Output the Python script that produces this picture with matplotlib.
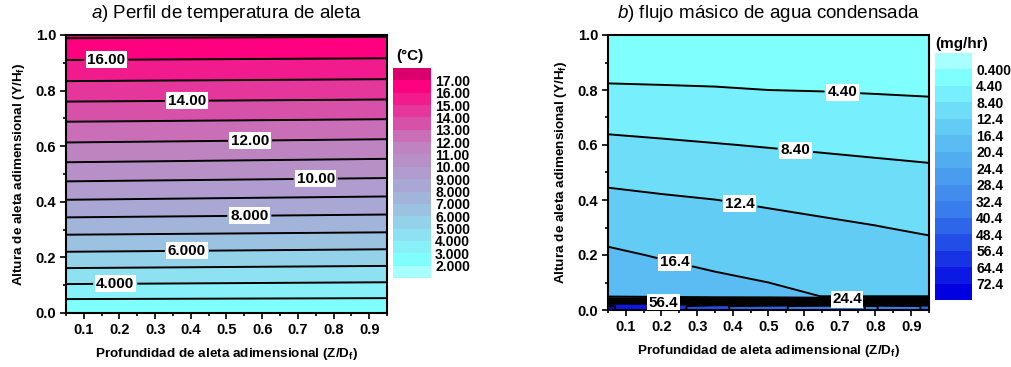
import numpy as np
import matplotlib
matplotlib.use('Agg')
import matplotlib.pyplot as plt
from matplotlib.colors import LinearSegmentedColormap, ListedColormap, BoundaryNorm
from matplotlib.ticker import MultipleLocator, FormatStrFormatter

plt.rcParams['font.family'] = ['Liberation Sans', 'DejaVu Sans']
plt.rcParams['mathtext.fontset'] = 'custom'
plt.rcParams['mathtext.rm'] = 'Liberation Sans'
plt.rcParams['mathtext.it'] = 'Liberation Sans:italic'
plt.rcParams['mathtext.bf'] = 'Liberation Sans:bold'

# ---- a) temperature profile (read off the contour lines) ----
temp_z = [0.05, 0.95]
temp_y = [0.0, 0.1, 0.2, 0.3, 0.4, 0.5, 0.6, 0.7, 0.8, 0.9, 1.0]
temp_at_z005 = [2.07, 3.93, 5.67, 7.30, 8.89, 10.40, 11.82, 13.16, 14.55, 15.87, 17.15]
temp_at_z095 = [2.06, 3.82, 5.52, 7.16, 8.71, 10.22, 11.65, 13.04, 14.45, 15.79, 17.08]
temp_levels = [1, 2, 3, 4, 5, 6, 7, 8, 9, 10, 11, 12, 13, 14, 15, 16, 17, 18]
temp_cbar_ticks = [2, 3, 4, 5, 6, 7, 8, 9, 10, 11, 12, 13, 14, 15, 16, 17]
temp_labels = [16, 14, 12, 10, 8, 6, 4]

# ---- b) condensed water mass flow ----
flow_z = [0.05, 0.2, 0.35, 0.5, 0.65, 0.8, 0.95]
flow_y = [0.0, 0.014, 0.022, 0.03, 0.04, 0.05, 0.1, 0.2, 0.3, 0.4, 0.5, 0.6, 0.7, 0.8, 0.9, 1.0]
flow_rows = [
    [74.0, 62.0, 50.0, 44.0, 34.0, 32.0, 42.0],
    [74.0, 62.0, 50.0, 44.0, 34.0, 32.0, 42.0],
    [66.0, 66.0, 66.0, 66.0, 66.0, 66.0, 66.0],
    [44.0, 44.0, 43.0, 43.0, 42.0, 42.0, 42.0],
    [26.0, 26.0, 25.0, 25.0, 24.0, 24.0, 24.0],
    [19.7, 18.65, 17.8, 17.2, 16.37, 16.32, 16.31],
    [18.8, 17.8, 17.0, 16.4, 15.70, 15.56, 15.41],
    [16.95, 16.15, 15.48, 14.95, 14.35, 14.04, 13.61],
    [15.12, 14.48, 13.96, 13.49, 13.01, 12.52, 11.91],
    [13.28, 12.82, 12.43, 11.93, 11.43, 10.91, 10.44],
    [11.32, 10.89, 10.49, 10.07, 9.67, 9.29, 8.96],
    [9.23, 8.88, 8.54, 8.21, 7.90, 7.62, 7.36],
    [7.10, 6.84, 6.59, 6.30, 6.10, 5.89, 5.68],
    [4.92, 4.79, 4.65, 4.40, 4.31, 4.15, 3.99],
    [2.76, 2.70, 2.63, 2.50, 2.45, 2.37, 2.30],
    [0.6, 0.6, 0.6, 0.6, 0.6, 0.6, 0.6],
]
flow_levels = [0.0, 0.4, 4.4, 8.4, 12.4, 16.4, 20.4, 24.4, 28.4, 32.4, 40.4, 48.4, 56.4, 64.4, 72.4, 80.4]
flow_cbar_ticks = flow_levels[1:-1]
flow_labels = [4.4, 8.4, 12.4, 16.4, 24.4, 56.4]

# label placements (z, y)
temp_label_pos = [(0.163, 0.92), (0.389, 0.752), (0.566, 0.627), (0.75, 0.49),
                  (0.564, 0.349), (0.389, 0.229), (0.188, 0.098)]
flow_label_pos = [(0.707, 0.788), (0.576, 0.592), (0.42, 0.389), (0.238, 0.178),
                  (0.72, 0.036), (0.206, 0.024)]

# colours
cm_t = LinearSegmentedColormap.from_list('t', ['#80FFFF', '#A0B8DC', '#C080C0', '#FF0080'])
temp_colors = ['#A8FFFF'] + [cm_t(i / 14) for i in range(15)] + ['#DA006E']
temp_cmap = ListedColormap(temp_colors)
temp_norm = BoundaryNorm(temp_levels, temp_cmap.N)

cm_f = LinearSegmentedColormap.from_list('f', [(0, '#80FFFF'), (0.3, '#5BBDF2'),
                                               (0.65, '#3575EA'), (1, '#0000E0')])
flow_colors = ['#A8FFFF'] + [cm_f(i / 13) for i in range(14)]
flow_cmap = ListedColormap(flow_colors)
flow_norm = BoundaryNorm(flow_levels, flow_cmap.N)

W, H = 1012, 367
fig = plt.figure(figsize=(W / 100, H / 100), dpi=100)
ax1 = fig.add_axes([66 / W, 1 - 313 / H, 321 / W, 278 / H])
ax2 = fig.add_axes([608 / W, 1 - 310 / H, 321 / W, 275 / H])
cax1 = fig.add_axes([393 / W, 1 - 278 / H, 38 / W, 210 / H])
cax2 = fig.add_axes([935 / W, 1 - 300 / H, 37 / W, 247 / H])

LW = 1.4


def draw_contours(ax, Z, Y, V, levels, cmap, norm, labeled, positions, fmt):
    ax.contourf(Z, Y, V, levels=levels, cmap=cmap, norm=norm)
    plain = [lv for lv in levels if lv not in labeled]
    ax.contour(Z, Y, V, levels=plain, colors='black', linewidths=LW)
    for lev, pos in zip(labeled, positions):
        cs = ax.contour(Z, Y, V, levels=[lev], colors='black', linewidths=LW)
        txt = ax.clabel(cs, manual=[pos], fmt=fmt, inline=True, inline_spacing=3, fontsize=11)
        for t in txt:
            t.set_rotation(0)
            t.set_fontweight('bold')
            t.set_bbox(dict(boxstyle='square,pad=0.1', fc='white', ec='none'))


Zt, Yt = np.meshgrid(temp_z, temp_y)
T = np.column_stack([temp_at_z005, temp_at_z095])
draw_contours(ax1, Zt, Yt, T, temp_levels, temp_cmap, temp_norm,
              temp_labels, temp_label_pos, lambda v: '%#.4g' % v)

Zf, Yf = np.meshgrid(flow_z, flow_y)
M = np.array(flow_rows)
draw_contours(ax2, Zf, Yf, M, flow_levels, flow_cmap, flow_norm,
              flow_labels, flow_label_pos, lambda v: '%#.3g' % v)

for ax, title in [(ax1, r'$\mathit{a)}$ Perfil de temperatura de aleta'),
                  (ax2, r'$\mathit{b)}$ flujo másico de agua condensada')]:
    ax.set_xlim(0.05, 0.95)
    ax.set_ylim(0, 1)
    ax.xaxis.set_major_locator(MultipleLocator(0.1))
    ax.xaxis.set_minor_locator(MultipleLocator(0.05))
    ax.yaxis.set_major_locator(MultipleLocator(0.2))
    ax.yaxis.set_minor_locator(MultipleLocator(0.1))
    ax.xaxis.set_major_formatter(FormatStrFormatter('%.1f'))
    ax.yaxis.set_major_formatter(FormatStrFormatter('%.1f'))
    ax.tick_params(which='both', direction='out', width=1.2, top=False, right=False)
    ax.tick_params(which='major', length=4, labelsize=10.5, pad=3)
    ax.tick_params(which='minor', length=2.5)
    for lab in ax.get_xticklabels() + ax.get_yticklabels():
        lab.set_fontweight('bold')
    for sp in ax.spines.values():
        sp.set_linewidth(1.5)
    ax.set_xlabel('Profundidad de aleta adimensional (Z/D$_\\mathbf{f}$)', fontsize=9.7,
                  fontweight='bold', labelpad=7)
    ax.set_ylabel('Altura de aleta adimensional (Y/H$_\\mathbf{f}$)', fontsize=9.7,
                  fontweight='bold', labelpad=6)
    ax.set_title(title, fontsize=13.5, pad=12)

# colour bars
cb1 = fig.colorbar(plt.cm.ScalarMappable(norm=temp_norm, cmap=temp_cmap), cax=cax1,
                   ticks=temp_cbar_ticks, spacing='uniform')
cb1.ax.set_yticklabels(['%#.4g' % v for v in temp_cbar_ticks])
cb2 = fig.colorbar(plt.cm.ScalarMappable(norm=flow_norm, cmap=flow_cmap), cax=cax2,
                   ticks=flow_cbar_ticks, spacing='uniform')
cb2.ax.set_yticklabels(['%#.3g' % v for v in flow_cbar_ticks])
cb2.ax.invert_yaxis()
for cb in (cb1, cb2):
    cb.outline.set_visible(False)
    cb.minorticks_off()
    cb.ax.tick_params(which='both', length=0, labelsize=10, pad=3)
    for lab in cb.ax.get_yticklabels():
        lab.set_fontweight('bold')

fig.text(410 / W, 1 - 56 / H, '(°C)', ha='center', va='center', fontsize=11, fontweight='bold')
fig.text(962 / W, 1 - 44 / H, '(mg/hr)', ha='center', va='center', fontsize=11, fontweight='bold')

fig.savefig('out.png', dpi=100)
